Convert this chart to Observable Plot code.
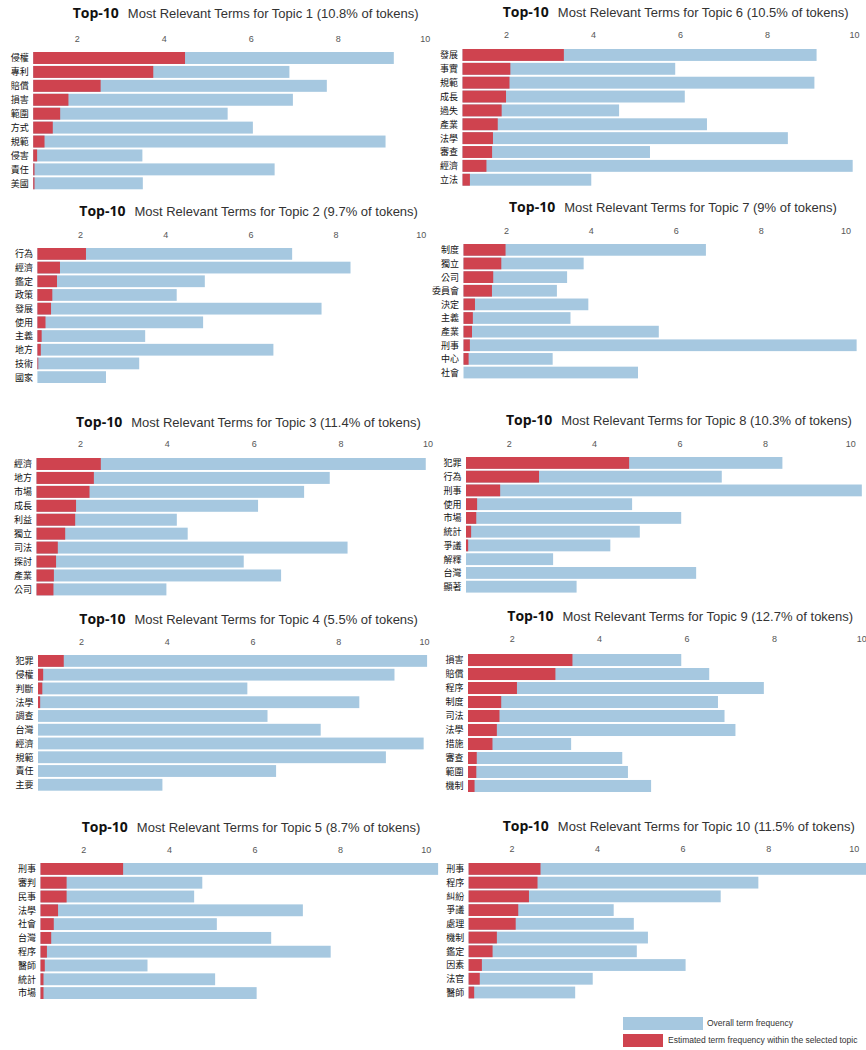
<!DOCTYPE html>
<html><head><meta charset="utf-8">
<script src="https://cdn.jsdelivr.net/npm/d3@7"></script>
<script src="https://cdn.jsdelivr.net/npm/@observablehq/plot@0.6"></script>
<style>
body{margin:0;background:#fff;}
#root{position:relative;width:866px;height:1050px;overflow:hidden;font-family:"Liberation Sans",Arial,sans-serif;background:#fff;}
.title{position:absolute;white-space:nowrap;color:#333;font-size:13px;line-height:16px;}
.title b{font-family:"Open Sans",sans-serif;font-weight:700;font-size:14px;color:#111;margin-right:9px;}
.panel{position:absolute;}
.panel svg{overflow:visible;background:transparent;}
.leg{position:absolute;}
.legtxt{position:absolute;font-size:8.5px;color:#333;white-space:nowrap;line-height:10px;}
</style></head><body><div id="root"></div>
<script>
// ---- data ----
const topicIds = [1, 2, 3, 4, 5, 6, 7, 8, 9, 10];
const tokenShares = ["10.8%", "9.7%", "11.4%", "5.5%", "8.7%", "10.5%", "9%", "10.3%", "12.7%", "11.5%"];
const xTicks = [2, 4, 6, 8, 10];

const terms1 = ["侵權","專利","賠償","損害","範圍","方式","規範","侵害","責任","美國"];
const overall1 = [9.29, 6.89, 7.75, 6.97, 5.47, 6.05, 9.10, 3.51, 6.55, 3.52];
const estimated1 = [4.49, 3.76, 2.55, 1.81, 1.62, 1.45, 1.26, 1.09, 1.03, 1.03];

const terms2 = ["行為","經濟","鑑定","政策","發展","使用","主義","地方","技術","國家"];
const overall2 = [6.98, 8.35, 4.93, 4.27, 7.67, 4.89, 3.53, 6.54, 3.39, 2.61];
const estimated2 = [2.14, 1.53, 1.46, 1.35, 1.32, 1.19, 1.10, 1.08, 1.02, 1.0];

const terms3 = ["經濟","地方","市場","成長","利益","獨立","司法","探討","產業","公司"];
const overall3 = [9.96, 7.75, 7.16, 6.10, 4.23, 4.48, 8.16, 5.77, 6.63, 3.99];
const estimated3 = [2.48, 2.32, 2.22, 1.91, 1.89, 1.66, 1.49, 1.45, 1.40, 1.39];

const terms4 = ["犯罪","侵權","判斷","法學","調查","台灣","經濟","規範","責任","主要"];
const overall4 = [10.07, 9.31, 5.88, 8.49, 6.35, 7.59, 9.99, 9.11, 6.55, 3.90];
const estimated4 = [1.60, 1.12, 1.10, 1.05, 1.0, 1.0, 1.0, 1.0, 1.0, 1.0];

const terms5 = ["刑事","審判","民事","法學","社會","台灣","程序","醫師","統計","市場"];
const overall5 = [10.29, 4.78, 4.59, 7.13, 5.12, 6.39, 7.78, 3.50, 5.08, 6.05];
const estimated5 = [2.93, 1.61, 1.61, 1.41, 1.31, 1.25, 1.15, 1.10, 1.07, 1.07];

const terms6 = ["發展","事實","規範","成長","過失","產業","法學","審查","經濟","立法"];
const overall6 = [9.14, 5.89, 9.09, 6.11, 4.60, 6.62, 8.48, 5.31, 9.97, 3.96];
const estimated6 = [3.33, 2.10, 2.08, 2.00, 1.90, 1.81, 1.70, 1.68, 1.55, 1.17];

const terms7 = ["制度","獨立","公司","委員會","決定","主義","產業","刑事","中心","社會"];
const overall7 = [6.71, 3.83, 3.44, 3.20, 3.94, 3.52, 5.60, 10.26, 3.10, 5.11];
const estimated7 = [1.99, 1.89, 1.70, 1.67, 1.27, 1.22, 1.20, 1.15, 1.12, 1.0];

const terms8 = ["犯罪","行為","刑事","使用","市場","統計","爭議","解釋","台灣","顯著"];
const overall8 = [8.41, 6.99, 10.27, 4.89, 6.04, 5.07, 4.38, 3.04, 6.39, 3.59];
const estimated8 = [4.82, 2.71, 1.80, 1.26, 1.24, 1.12, 1.05, 1.0, 1.0, 1.0];

const terms9 = ["損害","賠償","程序","制度","司法","法學","措施","審查","範圍","機制"];
const overall9 = [5.88, 6.52, 7.77, 6.72, 6.87, 7.12, 3.36, 4.53, 4.66, 5.19];
const estimated9 = [3.39, 3.00, 2.12, 1.76, 1.72, 1.66, 1.56, 1.20, 1.19, 1.15];

const terms10 = ["刑事","程序","糾紛","爭議","處理","機制","鑑定","因素","法官","醫師"];
const overall10 = [10.3, 7.77, 6.89, 4.39, 4.86, 5.19, 4.93, 6.07, 3.90, 3.49];
const estimated10 = [2.68, 2.61, 2.41, 2.16, 2.10, 1.66, 1.56, 1.31, 1.26, 1.13];

const allTerms = [terms1, terms2, terms3, terms4, terms5, terms6, terms7, terms8, terms9, terms10];
const allOverall = [overall1, overall2, overall3, overall4, overall5, overall6, overall7, overall8, overall9, overall10];
const allEstimated = [estimated1, estimated2, estimated3, estimated4, estimated5, estimated6, estimated7, estimated8, estimated9, estimated10];

// ---- layout (pixel geometry of each panel in the collage) ----
const layout = [
  {left: 0,   x0: 33.2,  x10: 424.7, top: 51.7,  bottom: 189.0, axisY: 38,    titleX: 72.7,  titleBase: 18.3},
  {left: 0,   x0: 37.4,  x10: 420.8, top: 248.3, bottom: 383.3, axisY: 234,   titleX: 79.3,  titleBase: 215.5},
  {left: 0,   x0: 36.5,  x10: 427.5, top: 458.3, bottom: 595.7, axisY: 443,   titleX: 76,    titleBase: 426.5},
  {left: 0,   x0: 38.0,  x10: 424.1, top: 655.0, bottom: 790.7, axisY: 641,   titleX: 79.3,  titleBase: 624},
  {left: 0,   x0: 40.5,  x10: 425.7, top: 863.3, bottom: 999.3, axisY: 849,   titleX: 81.7,  titleBase: 832},
  {left: 430, x0: 462.5, x10: 854.0, top: 49.0,  bottom: 185.7, axisY: 34,    titleX: 502.7, titleBase: 16.5},
  {left: 430, x0: 463.5, x10: 845.6, top: 244.3, bottom: 378.7, axisY: 230.5, titleX: 509,   titleBase: 212},
  {left: 430, x0: 466.0, x10: 850.3, top: 456.7, bottom: 592.3, axisY: 443,   titleX: 506,   titleBase: 425},
  {left: 430, x0: 468.0, x10: 861.3, top: 654.3, bottom: 792.3, axisY: 638,   titleX: 507.3, titleBase: 621},
  {left: 430, x0: 468.6, x10: 853.8, top: 863.3, bottom: 998.7, axisY: 848,   titleX: 502.7, titleBase: 831}
];

const blue = "#a6c8e0";
const red = "#cf434f";
const root = document.getElementById("root");

topicIds.forEach((id, i) => {
  const L = layout[i];
  const terms = allTerms[i];
  const rows = terms.map((t, j) => ({term: t, overall: allOverall[i][j], est: allEstimated[i][j]}));
  const mt = 30;
  const h = mt + (L.bottom - L.top) + 1;
  const mb = 1;
  const svgTop = L.top - mt;

  const chart = Plot.plot({
    width: 436,
    height: h,
    marginTop: mt,
    marginBottom: mb,
    marginLeft: L.x0 - L.left,
    marginRight: 0,
    x: {domain: [1, 10], range: [L.x0 - L.left, L.x10 - L.left]},
    y: {domain: terms, range: [mt, mt + (L.bottom - L.top)], paddingInner: 0.14, paddingOuter: 0, round: false},
    style: {fontFamily: "'Liberation Sans', 'Noto Sans CJK TC', sans-serif", overflow: "visible", background: "transparent"},
    marks: [
      Plot.barX(rows, {y: "term", x1: 1, x2: "overall", fill: blue}),
      Plot.barX(rows, {y: "term", x1: 1, x2: "est", fill: red}),
      Plot.axisX({anchor: "top", ticks: xTicks, tickSize: 0, tickPadding: L.top - L.axisY - 3.5, fontSize: 9, color: "#555", label: null}),
      Plot.axisY({tickSize: 0, tickPadding: 5, fontSize: 9, color: "#111", label: null})
    ]
  });
  const div = document.createElement("div");
  div.className = "panel";
  div.style.left = L.left + "px";
  div.style.top = svgTop + "px";
  div.appendChild(chart);
  root.appendChild(div);

  const t = document.createElement("div");
  t.className = "title";
  t.style.left = L.titleX + "px";
  t.style.top = (L.titleBase - 13) + "px";
  t.innerHTML = `<b>Top-10</b>Most Relevant Terms for Topic ${id} (${tokenShares[i]} of tokens)`;
  root.appendChild(t);
});

// legend
const legendItems = [
  {label: "Overall term frequency", color: blue, x: 623, y: 1017, w: 80, tx: 707},
  {label: "Estimated term frequency within the selected topic", color: red, x: 623, y: 1034, w: 40, tx: 668}
];
legendItems.forEach(d => {
  const r = document.createElement("div");
  r.className = "leg";
  Object.assign(r.style, {left: d.x + "px", top: d.y + "px", width: d.w + "px", height: "13px", background: d.color});
  root.appendChild(r);
  const tx = document.createElement("div");
  tx.className = "legtxt";
  tx.style.left = d.tx + "px";
  tx.style.top = (d.y + 1) + "px";
  tx.textContent = d.label;
  root.appendChild(tx);
});
</script>
</body></html>
